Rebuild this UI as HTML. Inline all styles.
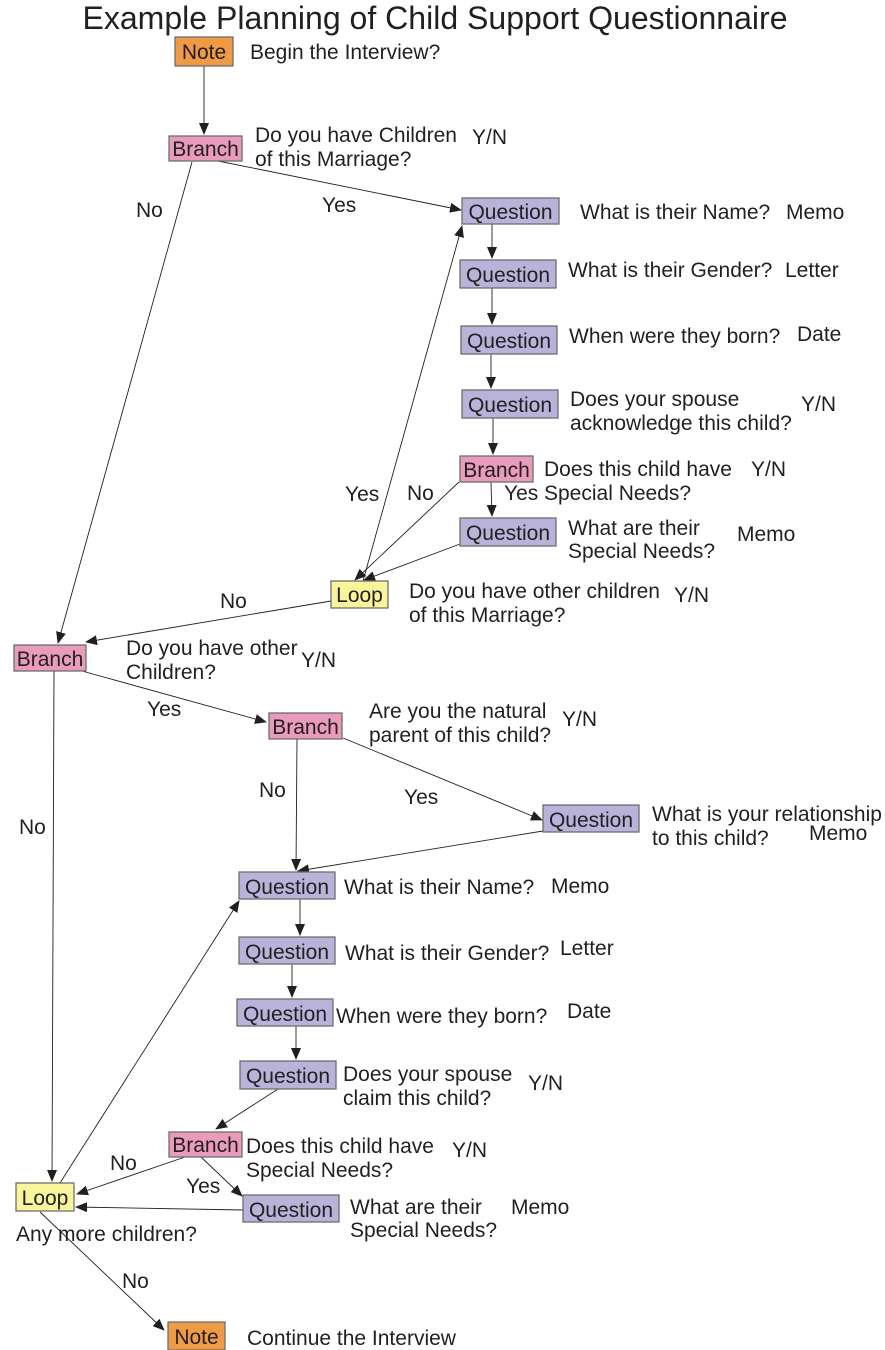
<!DOCTYPE html>
<html><head><meta charset="utf-8"><style>
html,body{margin:0;padding:0;background:#fff;}
svg{display:block;}
text{font-family:"Liberation Sans",Arial,sans-serif;fill:#231f20;}
.b{font-size:21px;}
rect{stroke:#6d6e71;stroke-width:1.3;}
.n{fill:#ef9a45;}.br{fill:#e99bbb;}.q{fill:#b8b3d9;}.l{fill:#f8f59b;}
line{stroke:#231f20;stroke-width:0.9;}
</style></head><body>
<svg width="885" height="1350" viewBox="0 0 885 1350" xmlns="http://www.w3.org/2000/svg">
<defs><marker id="a" markerWidth="12" markerHeight="10" refX="11" refY="5" orient="auto" markerUnits="userSpaceOnUse"><path d="M0,0 L12,5 L0,10 z" fill="#231f20"/></marker></defs>
<text x="435" y="29" font-size="32" text-anchor="middle" textLength="705" lengthAdjust="spacingAndGlyphs">Example Planning of Child Support Questionnaire</text>

<g marker-end="url(#a)">
<line x1="204" y1="66" x2="204" y2="134"/>
<line x1="218" y1="161" x2="461" y2="210"/>
<line x1="192" y1="162" x2="58" y2="643"/>
<line x1="492" y1="224" x2="492" y2="258"/>
<line x1="492" y1="288" x2="492" y2="324"/>
<line x1="491" y1="354" x2="491" y2="388"/>
<line x1="493" y1="418" x2="493" y2="454"/>
<line x1="491" y1="482" x2="492" y2="516"/>
<line x1="459" y1="482" x2="355" y2="580"/>
<line x1="460" y1="544" x2="364" y2="580"/>
<line x1="363" y1="581" x2="462" y2="226"/>
<line x1="331" y1="601" x2="86" y2="642"/>
<line x1="82" y1="671" x2="266" y2="722"/>
<line x1="54" y1="671" x2="52" y2="1181"/>
<line x1="297" y1="739" x2="296" y2="870"/>
<line x1="343" y1="738" x2="542" y2="820"/>
<line x1="543" y1="831" x2="298" y2="871"/>
<line x1="300" y1="899" x2="300" y2="935"/>
<line x1="292" y1="964" x2="292" y2="997"/>
<line x1="296" y1="1026" x2="296" y2="1059"/>
<line x1="278" y1="1089" x2="216" y2="1129"/>
<line x1="185" y1="1157" x2="77" y2="1194"/>
<line x1="201" y1="1157" x2="242" y2="1196"/>
<line x1="243" y1="1210" x2="76" y2="1207"/>
<line x1="60" y1="1183" x2="239" y2="901"/>
<line x1="40" y1="1212" x2="164" y2="1330"/>
</g>

<rect class="n" x="175" y="37" width="58" height="29"/><text class="b" x="204" y="59" text-anchor="middle">Note</text>
<rect class="br" x="169" y="136" width="73" height="25"/><text class="b" x="205.5" y="156" text-anchor="middle">Branch</text>
<rect class="q" x="462" y="198" width="97" height="26"/><text class="b" x="510.5" y="219" text-anchor="middle">Question</text>
<rect class="q" x="460" y="260" width="96" height="28"/><text class="b" x="508" y="282" text-anchor="middle">Question</text>
<rect class="q" x="461" y="326" width="96" height="28"/><text class="b" x="509" y="348" text-anchor="middle">Question</text>
<rect class="q" x="462" y="390" width="96" height="28"/><text class="b" x="510" y="412" text-anchor="middle">Question</text>
<rect class="br" x="460" y="456" width="73" height="26"/><text class="b" x="496.5" y="477" text-anchor="middle">Branch</text>
<rect class="q" x="460" y="518" width="96" height="28"/><text class="b" x="508" y="540" text-anchor="middle">Question</text>
<rect class="l" x="331" y="581" width="57" height="27"/><text class="b" x="359.5" y="602" text-anchor="middle">Loop</text>
<rect class="br" x="14" y="645" width="72" height="26"/><text class="b" x="50" y="666" text-anchor="middle">Branch</text>
<rect class="br" x="269" y="713" width="73" height="26"/><text class="b" x="305.5" y="734" text-anchor="middle">Branch</text>
<rect class="q" x="543" y="805" width="96" height="27"/><text class="b" x="591" y="827" text-anchor="middle">Question</text>
<rect class="q" x="239" y="872" width="96" height="27"/><text class="b" x="287" y="894" text-anchor="middle">Question</text>
<rect class="q" x="239" y="937" width="96" height="27"/><text class="b" x="287" y="959" text-anchor="middle">Question</text>
<rect class="q" x="237" y="999" width="96" height="27"/><text class="b" x="285" y="1021" text-anchor="middle">Question</text>
<rect class="q" x="240" y="1061" width="96" height="28"/><text class="b" x="288" y="1083" text-anchor="middle">Question</text>
<rect class="br" x="169" y="1132" width="73" height="25"/><text class="b" x="205.5" y="1152" text-anchor="middle">Branch</text>
<rect class="q" x="243" y="1195" width="96" height="27"/><text class="b" x="291" y="1217" text-anchor="middle">Question</text>
<rect class="l" x="16" y="1183" width="58" height="28"/><text class="b" x="45" y="1205" text-anchor="middle">Loop</text>
<rect class="n" x="168" y="1322" width="57" height="28"/><text class="b" x="196.5" y="1344" text-anchor="middle">Note</text>

<g class="b">
<text x="250" y="59">Begin the Interview?</text>
<text x="255" y="142">Do you have Children</text><text x="255" y="166">of this Marriage?</text><text x="472" y="144">Y/N</text>
<text x="136" y="217">No</text>
<text x="322" y="212">Yes</text>
<text x="580" y="219">What is their Name?</text><text x="786" y="219">Memo</text>
<text x="568" y="277">What is their Gender?</text><text x="785" y="277">Letter</text>
<text x="569" y="343">When were they born?</text><text x="797" y="341">Date</text>
<text x="570" y="406">Does your spouse</text><text x="570" y="430">acknowledge this child?</text><text x="801" y="411">Y/N</text>
<text x="544" y="476">Does this child have</text><text x="751" y="476">Y/N</text>
<text x="504" y="500">Yes</text><text x="544" y="500">Special Needs?</text>
<text x="345" y="501">Yes</text><text x="407" y="500">No</text>
<text x="568" y="535">What are their</text><text x="568" y="558">Special Needs?</text><text x="737" y="541">Memo</text>
<text x="409" y="598">Do you have other children</text><text x="409" y="622">of this Marriage?</text><text x="674" y="602">Y/N</text>
<text x="220" y="608">No</text>
<text x="126" y="655">Do you have other</text><text x="126" y="679">Children?</text><text x="301" y="667">Y/N</text>
<text x="147" y="716">Yes</text>
<text x="369" y="718">Are you the natural</text><text x="369" y="742">parent of this child?</text><text x="562" y="726">Y/N</text>
<text x="259" y="797">No</text>
<text x="404" y="804">Yes</text>
<text x="19" y="834">No</text>
<text x="652" y="821">What is your relationship</text><text x="652" y="845">to this child?</text><text x="809" y="840">Memo</text>
<text x="344" y="894">What is their Name?</text><text x="551" y="893">Memo</text>
<text x="345" y="960">What is their Gender?</text><text x="560" y="955">Letter</text>
<text x="336" y="1023">When were they born?</text><text x="567" y="1018">Date</text>
<text x="343" y="1081">Does your spouse</text><text x="343" y="1105">claim this child?</text><text x="528" y="1090">Y/N</text>
<text x="246" y="1153">Does this child have</text><text x="246" y="1177">Special Needs?</text><text x="452" y="1157">Y/N</text>
<text x="110" y="1170">No</text>
<text x="186" y="1193">Yes</text>
<text x="350" y="1214">What are their</text><text x="350" y="1237">Special Needs?</text><text x="511" y="1214">Memo</text>
<text x="16" y="1241">Any more children?</text>
<text x="122" y="1288">No</text>
<text x="247" y="1345">Continue the Interview</text>
</g>
</svg>
</body></html>
